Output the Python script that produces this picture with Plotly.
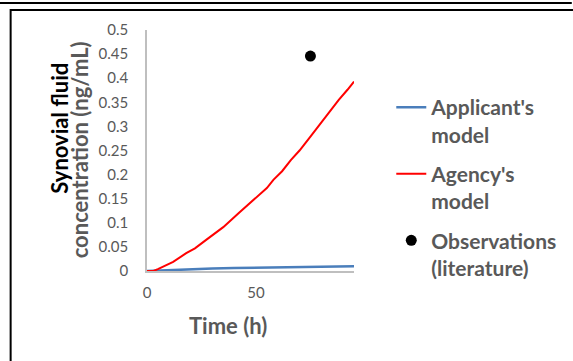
import plotly.graph_objects as go

# ---- data ----
t_applicant = [0, 10, 20, 30, 40, 50, 60, 70, 80, 95]
c_applicant = [0, 0.002, 0.004, 0.005, 0.006, 0.007, 0.0075, 0.008, 0.009, 0.010]

t_agency = [0, 3, 5, 8, 12, 18, 22, 27, 31, 35, 42, 46, 51, 55, 58, 62, 66, 70, 75, 79, 83, 88, 92, 95]
c_agency = [0, 0, 0.004, 0.010, 0.019, 0.037, 0.047, 0.064, 0.077, 0.091, 0.120, 0.136, 0.154,
            0.172, 0.189, 0.207, 0.230, 0.250, 0.279, 0.302, 0.327, 0.355, 0.376, 0.393]

t_obs = [75]
c_obs = [0.446]

y_tickvals = [0, 0.05, 0.1, 0.15, 0.2, 0.25, 0.3, 0.35, 0.4, 0.45, 0.5]
y_ticktext = ["0", "0.05", "0.1", "0.15", "0.2", "0.25", "0.3", "0.35", "0.4", "0.45", "0.5"]
x_tickvals = [0, 50]
x_ticktext = ["0", "50"]

series_names = ["Applicant's<br>model", "Agency's<br>model", "Observations<br>(literature)"]

# ---- figure ----
W, H = 573, 361
L, R, T, B = 147, 215, 30, 90
pw, ph = W - L - R, H - T - B


def px(x):
    return (x - L) / pw


def py(y):
    return (H - B - y) / ph


FONT = "Lato, 'Open Sans', sans-serif"
GRAY = "#595959"

fig = go.Figure()
fig.add_trace(go.Scatter(x=t_applicant, y=c_applicant, mode="lines", name=series_names[0],
                         line=dict(color="#4a7ebb", width=2.5), legendgroup="a"))
fig.add_trace(go.Scatter(x=t_agency, y=c_agency, mode="lines", name=series_names[1],
                         line=dict(color="#ff0000", width=2), legendgroup="b"))
fig.add_trace(go.Scatter(x=t_obs, y=c_obs, mode="markers", name=series_names[2],
                         marker=dict(color="#000000", size=11), legendgroup="c"))

fig.update_layout(
    width=W, height=H,
    margin=dict(l=L, r=R, t=T, b=B),
    paper_bgcolor="white", plot_bgcolor="white",
    font=dict(family=FONT, color=GRAY, size=15),
    showlegend=True,
    legend=dict(x=px(396), y=py(87), xanchor="left", yanchor="top",
                font=dict(size=21, color=GRAY, family=FONT, weight="bold"),
                valign="top", tracegroupgap=9, bgcolor="rgba(0,0,0,0)"),
    xaxis=dict(range=[0, 95], tickvals=x_tickvals, ticktext=x_ticktext, showgrid=False,
               zeroline=False, showline=True, linecolor="#bfbfbf", linewidth=1.5,
               ticks="", ticklabelstandoff=7, tickfont=dict(size=15, color=GRAY)),
    yaxis=dict(range=[0, 0.5], tickvals=y_tickvals, ticktext=y_ticktext, showgrid=False,
               zeroline=False, showline=True, linecolor="#bfbfbf", linewidth=1.5,
               ticks="", ticklabelstandoff=14, tickfont=dict(size=15, color=GRAY)),
    annotations=[
        dict(text="<b>Time (h)</b>", x=px(230), y=py(325), xref="paper", yref="paper",
             xanchor="center", yanchor="middle",
             showarrow=False, font=dict(size=22, color=GRAY, family=FONT)),
        dict(text="<b>Synovial fluid</b>", x=px(57), y=py(128), xref="paper", yref="paper",
             xanchor="center", yanchor="middle",
             showarrow=False, textangle=-90, font=dict(size=22, color="#000000", family=FONT)),
        dict(text="<b>concentration (ng/mL)</b>", x=px(78), y=py(150), xref="paper", yref="paper",
             xanchor="center", yanchor="middle",
             showarrow=False, textangle=-90, font=dict(size=22, color=GRAY, family=FONT)),
    ],
    shapes=[
        dict(type="line", xref="paper", yref="paper", x0=px(-5), x1=px(580), y0=py(3), y1=py(3),
             line=dict(color="black", width=2)),
        dict(type="rect", xref="paper", yref="paper", x0=px(8), x1=px(590), y0=py(10), y1=py(380),
             line=dict(color="black", width=2)),
    ],
)

fig.write_html("out.html", config={"displayModeBar": False},
               post_script="document.body.style.margin='0';")
